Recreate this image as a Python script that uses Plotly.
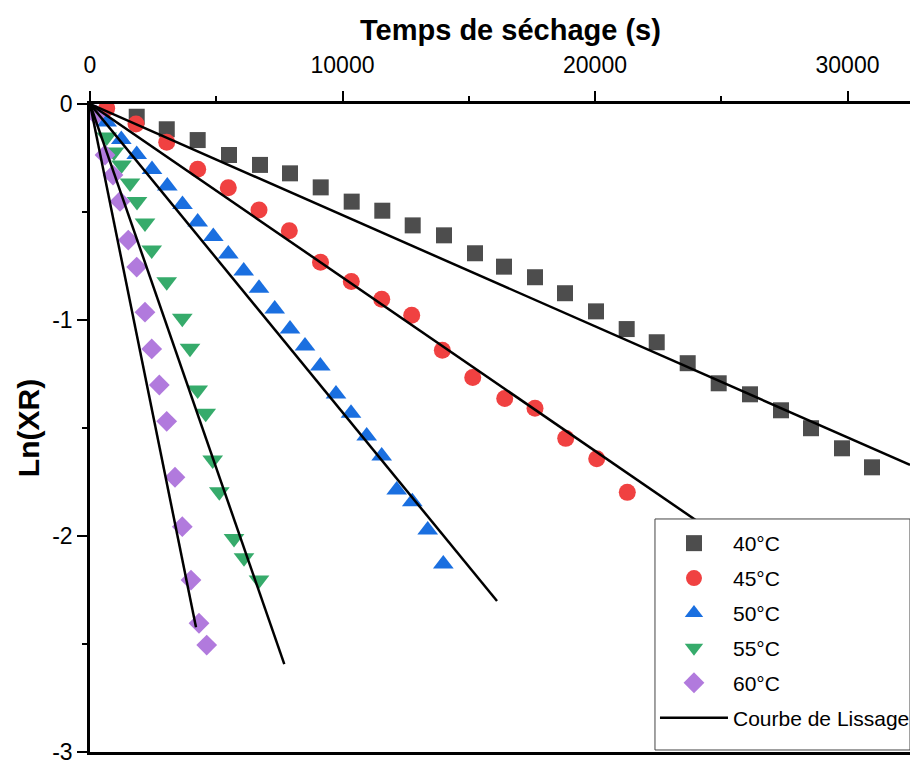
import plotly.graph_objects as go

# ---- data ----
t40 = [1850, 3040, 4265, 5505, 6733, 7921, 9137, 10364, 11576, 12780, 14020, 15248, 16396,
       17624, 18812, 20040, 21255, 22444, 23671, 24899, 26139, 27366, 28554, 29782, 30970]
y40 = [-0.059, -0.117, -0.167, -0.236, -0.282, -0.321, -0.386, -0.452, -0.494, -0.562, -0.608,
       -0.691, -0.753, -0.802, -0.876, -0.960, -1.042, -1.103, -1.200, -1.293, -1.344, -1.418,
       -1.501, -1.594, -1.682]

t45 = [661, 1822, 3038, 4265, 5477, 6693, 7893, 9129, 10349, 11553, 12741, 13954, 15158,
       16424, 17624, 18840, 20067, 21279]
y45 = [-0.020, -0.093, -0.177, -0.302, -0.388, -0.491, -0.587, -0.733, -0.822, -0.904, -0.978,
       -1.140, -1.266, -1.363, -1.409, -1.548, -1.642, -1.798]

t50 = [661, 1240, 1850, 2455, 3061, 3663, 4265, 4883, 5477, 6087, 6693, 7315, 7921, 8515,
       9121, 9742, 10337, 10958, 11552, 12147, 12764, 13374, 13992]
y50 = [-0.083, -0.164, -0.234, -0.303, -0.380, -0.465, -0.546, -0.613, -0.694, -0.773, -0.853,
       -0.949, -1.042, -1.120, -1.213, -1.343, -1.432, -1.537, -1.630, -1.787, -1.841, -1.972,
       -2.130]

t55 = [661, 950, 1248, 1584, 1861, 2178, 2444, 3038, 3655, 3960, 4265, 4582, 4859, 5121,
       5703, 6099, 6693]
y55 = [-0.153, -0.222, -0.282, -0.366, -0.451, -0.551, -0.676, -0.823, -0.992, -1.131, -1.324,
       -1.432, -1.648, -1.795, -2.011, -2.101, -2.204]

t60 = [238, 594, 911, 1188, 1517, 1850, 2178, 2444, 2745, 3038, 3366, 3655, 4000, 4317, 4622]
y60 = [-0.051, -0.236, -0.329, -0.451, -0.630, -0.755, -0.964, -1.134, -1.301, -1.469, -1.728,
       -1.957, -2.204, -2.404, -2.505]

series_names = ["40°C", "45°C", "50°C", "55°C", "60°C"]
series_t = [t40, t45, t50, t55, t60]
series_y = [y40, y45, y50, y55, y60]

# fitted lines (through origin): slope and end time
fit_slopes = [-5.146e-5, -8.03e-5, -1.4275e-4, -3.37e-4, -5.77e-4]
fit_tend = [32475, 32475, 16119, 7695, 4198]

x_ticks = [0, 10000, 20000, 30000]
y_ticks = [0, -1, -2, -3]

# ---- styles ----
colors = ["#4d4d4d", "#f04141", "#1a6fe0", "#36ab6b", "#b17add"]
symbols = ["square", "circle", "triangle-up", "triangle-down", "diamond"]
sizes = [16, 17, 18, 18, 16]

fig = go.Figure()
for name, tt, yy, c, s, sz in zip(series_names, series_t, series_y, colors, symbols, sizes):
    fig.add_trace(go.Scatter(x=tt, y=yy, mode="markers", name=name,
                             legendgroup=name,
                             marker=dict(color=c, symbol=s, size=sz, line=dict(width=0))))

for i, (k, te) in enumerate(zip(fit_slopes, fit_tend)):
    fig.add_trace(go.Scatter(x=[0, te], y=[0, k * te], mode="lines",
                             name="Courbe de Lissage", legendgroup="fit",
                             showlegend=(i == 0),
                             line=dict(color="black", width=2.5)))

font_family = "Liberation Sans, Arial, sans-serif"

# legend frame (white box covering the plot behind the legend)
fig.add_shape(type="rect", xref="paper", yref="paper",
              x0=0.689, x1=1.0, y0=0.0031, y1=0.3596,
              fillcolor="white", line=dict(color="#444", width=1), layer="above")

fig.add_annotation(text="<b>Temps de séchage (s)</b>", xref="paper", yref="paper",
                   x=0.5134, y=1.0, yshift=74, xanchor="center", yanchor="middle",
                   showarrow=False, font=dict(size=29, family=font_family, color="black"))

fig.update_layout(
    width=910, height=760,
    margin=dict(l=90, r=0, t=104, b=8, autoexpand=False),
    paper_bgcolor="white", plot_bgcolor="white",
    font=dict(family=font_family, color="black", size=23),
    xaxis=dict(side="top", range=[0, 32475], tickvals=x_ticks,
               ticktext=[str(v) for v in x_ticks],
               showgrid=False, zeroline=False, showline=True, linecolor="black",
               linewidth=3, mirror=True, ticks="outside", ticklen=10, tickwidth=2,
               tickcolor="black", tickfont=dict(size=23), ticklabelstandoff=9,
               automargin=False,
               minor=dict(dtick=5000, ticks="outside", ticklen=5, tickwidth=2,
                          tickcolor="black", showgrid=False)),
    yaxis=dict(range=[-3, 0], tickvals=y_ticks, ticktext=[str(v) for v in y_ticks],
               showgrid=False, zeroline=False, showline=True, linecolor="black",
               linewidth=2.5, ticks="outside", ticklen=10, tickwidth=2, tickcolor="black",
               tickfont=dict(size=23), ticklabeloverflow="allow", automargin=False,
               minor=dict(dtick=0.5, ticks="outside", ticklen=5, tickwidth=2,
                          tickcolor="black", showgrid=False),
               title=dict(text="<b>Ln(XR)</b>", font=dict(size=30), standoff=4)),
    legend=dict(x=0.689, y=0.3534, xanchor="left", yanchor="top",
                bgcolor="rgba(0,0,0,0)", borderwidth=0,
                font=dict(size=21), tracegroupgap=4.6, traceorder="grouped",
                itemwidth=68),
    showlegend=True,
)

fig.write_html("out.html")
